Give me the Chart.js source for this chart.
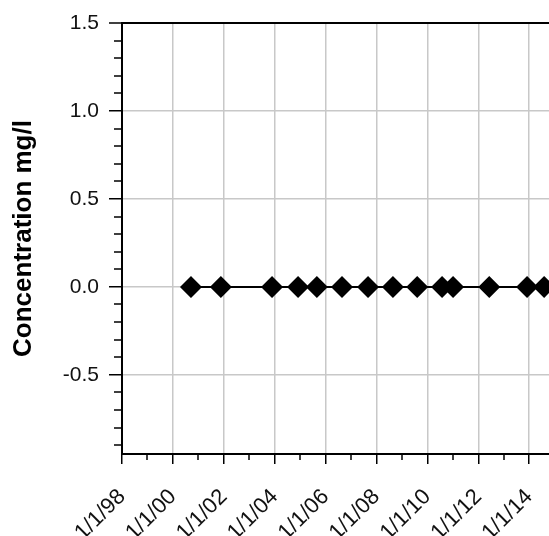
<!DOCTYPE html>
<html>
<head>
<meta charset="utf-8">
<script src="https://cdn.jsdelivr.net/npm/chart.js@4.4.1/dist/chart.umd.min.js"></script>
<style>
    html, body { margin: 0; padding: 0; background: #fff; }
    canvas { display: block; }
</style>
</head>
<body>
<canvas id="conc-graph" width="549" height="536"></canvas>
<script>
// sample dates and measured concentrations (mg/l)
const sampleDates = ['2000-09-17', '2001-11-20', '2003-11-24', '2004-12-02', '2005-08-29',
    '2006-08-25', '2007-09-02', '2008-08-25', '2009-08-08', '2010-07-31', '2011-01-05',
    '2012-06-07', '2013-12-02', '2014-08-04'];
const concValues = [0, 0, 0, 0, 0, 0, 0, 0, 0, 0, 0, 0, 0, 0];

// axis ticks
const xTickYears = [1998, 2000, 2002, 2004, 2006, 2008, 2010, 2012, 2014];
const xMinorYears = [1999, 2001, 2003, 2005, 2007, 2009, 2011, 2013];
const yTickValues = [-0.5, 0, 0.5, 1.0, 1.5];
const yMinorValues = [-0.9, -0.8, -0.7, -0.6, -0.4, -0.3, -0.2, -0.1, 0.1, 0.2, 0.3, 0.4,
    0.6, 0.7, 0.8, 0.9, 1.1, 1.2, 1.3, 1.4];

(function() {
    const FONT = '"Liberation Sans", Arial, sans-serif';
    const GRID = '#c8c8c8';

    //date string -> decimal year
    const toYear = function(str) {
        const d = new Date(str + 'T00:00:00Z');
        const y = d.getUTCFullYear();
        const start = Date.UTC(y, 0, 1), end = Date.UTC(y + 1, 0, 1);
        return y + (d.getTime() - start) / (end - start);
    }

    const yearLabel = function(year) {
        return '1/1/' + String(year % 100).padStart(2, '0');
    }

    //short minor ticks outside the axes
    const minorTicks = {
        id: 'minorTicks',
        afterDraw: function(chart) {
            const ctx = chart.ctx, x = chart.scales.x, y = chart.scales.y;
            ctx.save();
            ctx.strokeStyle = '#000';
            ctx.lineWidth = 1.5;
            ctx.beginPath();
            xMinorYears.forEach(function(v) {
                const px = Math.round(x.getPixelForValue(v));
                ctx.moveTo(px, x.top);
                ctx.lineTo(px, x.top + 6);
            });
            yMinorValues.forEach(function(v) {
                const py = Math.round(y.getPixelForValue(v));
                ctx.moveTo(y.right - 8, py);
                ctx.lineTo(y.right, py);
            });
            ctx.stroke();
            ctx.restore();
        }
    }

    const buildChart = function() {
        const points = sampleDates.map(function(d, i) {
            return { x: toYear(d), y: concValues[i] };
        });

        new Chart(document.getElementById('conc-graph'), {
            type: 'line',
            data: {
                datasets: [{
                    data: points,
                    borderColor: '#000',
                    borderWidth: 2,
                    backgroundColor: '#000',
                    pointStyle: 'rectRot',
                    pointRadius: 11,
                    pointHoverRadius: 11,
                    pointBorderWidth: 0,
                    clip: false
                }]
            },
            options: {
                responsive: false,
                animation: false,
                events: [],
                layout: {
                    autoPadding: false,
                    padding: { top: 23, right: 0, bottom: 0, left: 0 }
                },
                plugins: {
                    legend: { display: false },
                    tooltip: { enabled: false }
                },
                scales: {
                    x: {
                        type: 'linear',
                        min: 1998,
                        max: 2014.78,
                        afterBuildTicks: function(scale) {
                            scale.ticks = xTickYears.map(function(v) { return { value: v }; });
                        },
                        afterFit: function(scale) {
                            scale.height = 82;
                            scale.paddingRight = 0;
                            scale.paddingLeft = 0;
                        },
                        border: { color: '#000', width: 2 },
                        grid: {
                            color: GRID,
                            lineWidth: 1.5,
                            tickColor: '#000',
                            tickWidth: 1.5,
                            tickLength: 10
                        },
                        ticks: {
                            autoSkip: false,
                            minRotation: 45,
                            maxRotation: 45,
                            padding: 20,
                            color: '#111',
                            font: { family: FONT, size: 22 },
                            callback: function(v) { return yearLabel(v); }
                        }
                    },
                    y: {
                        min: -0.95,
                        max: 1.5,
                        afterBuildTicks: function(scale) {
                            scale.ticks = yTickValues.map(function(v) { return { value: v }; });
                        },
                        afterFit: function(scale) { scale.width = 122; },
                        border: { color: '#000', width: 2 },
                        grid: {
                            color: function(c) { return c.tick && c.tick.value === 1.5 ? '#000' : GRID; },
                            lineWidth: function(c) { return c.tick && c.tick.value === 1.5 ? 2 : 1.5; },
                            tickColor: '#000',
                            tickWidth: 1.5,
                            tickLength: 13
                        },
                        ticks: {
                            padding: 10,
                            color: '#111',
                            font: { family: FONT, size: 21 },
                            callback: function(v) { return Number(v).toFixed(1); }
                        },
                        title: {
                            display: true,
                            text: 'Concentration mg/l',
                            color: '#000',
                            padding: { top: 8, bottom: 0 },
                            font: { family: FONT, size: 26, weight: 'bold' }
                        }
                    }
                }
            },
            plugins: [minorTicks]
        });
    }

    buildChart();
})();
</script>
</body>
</html>
